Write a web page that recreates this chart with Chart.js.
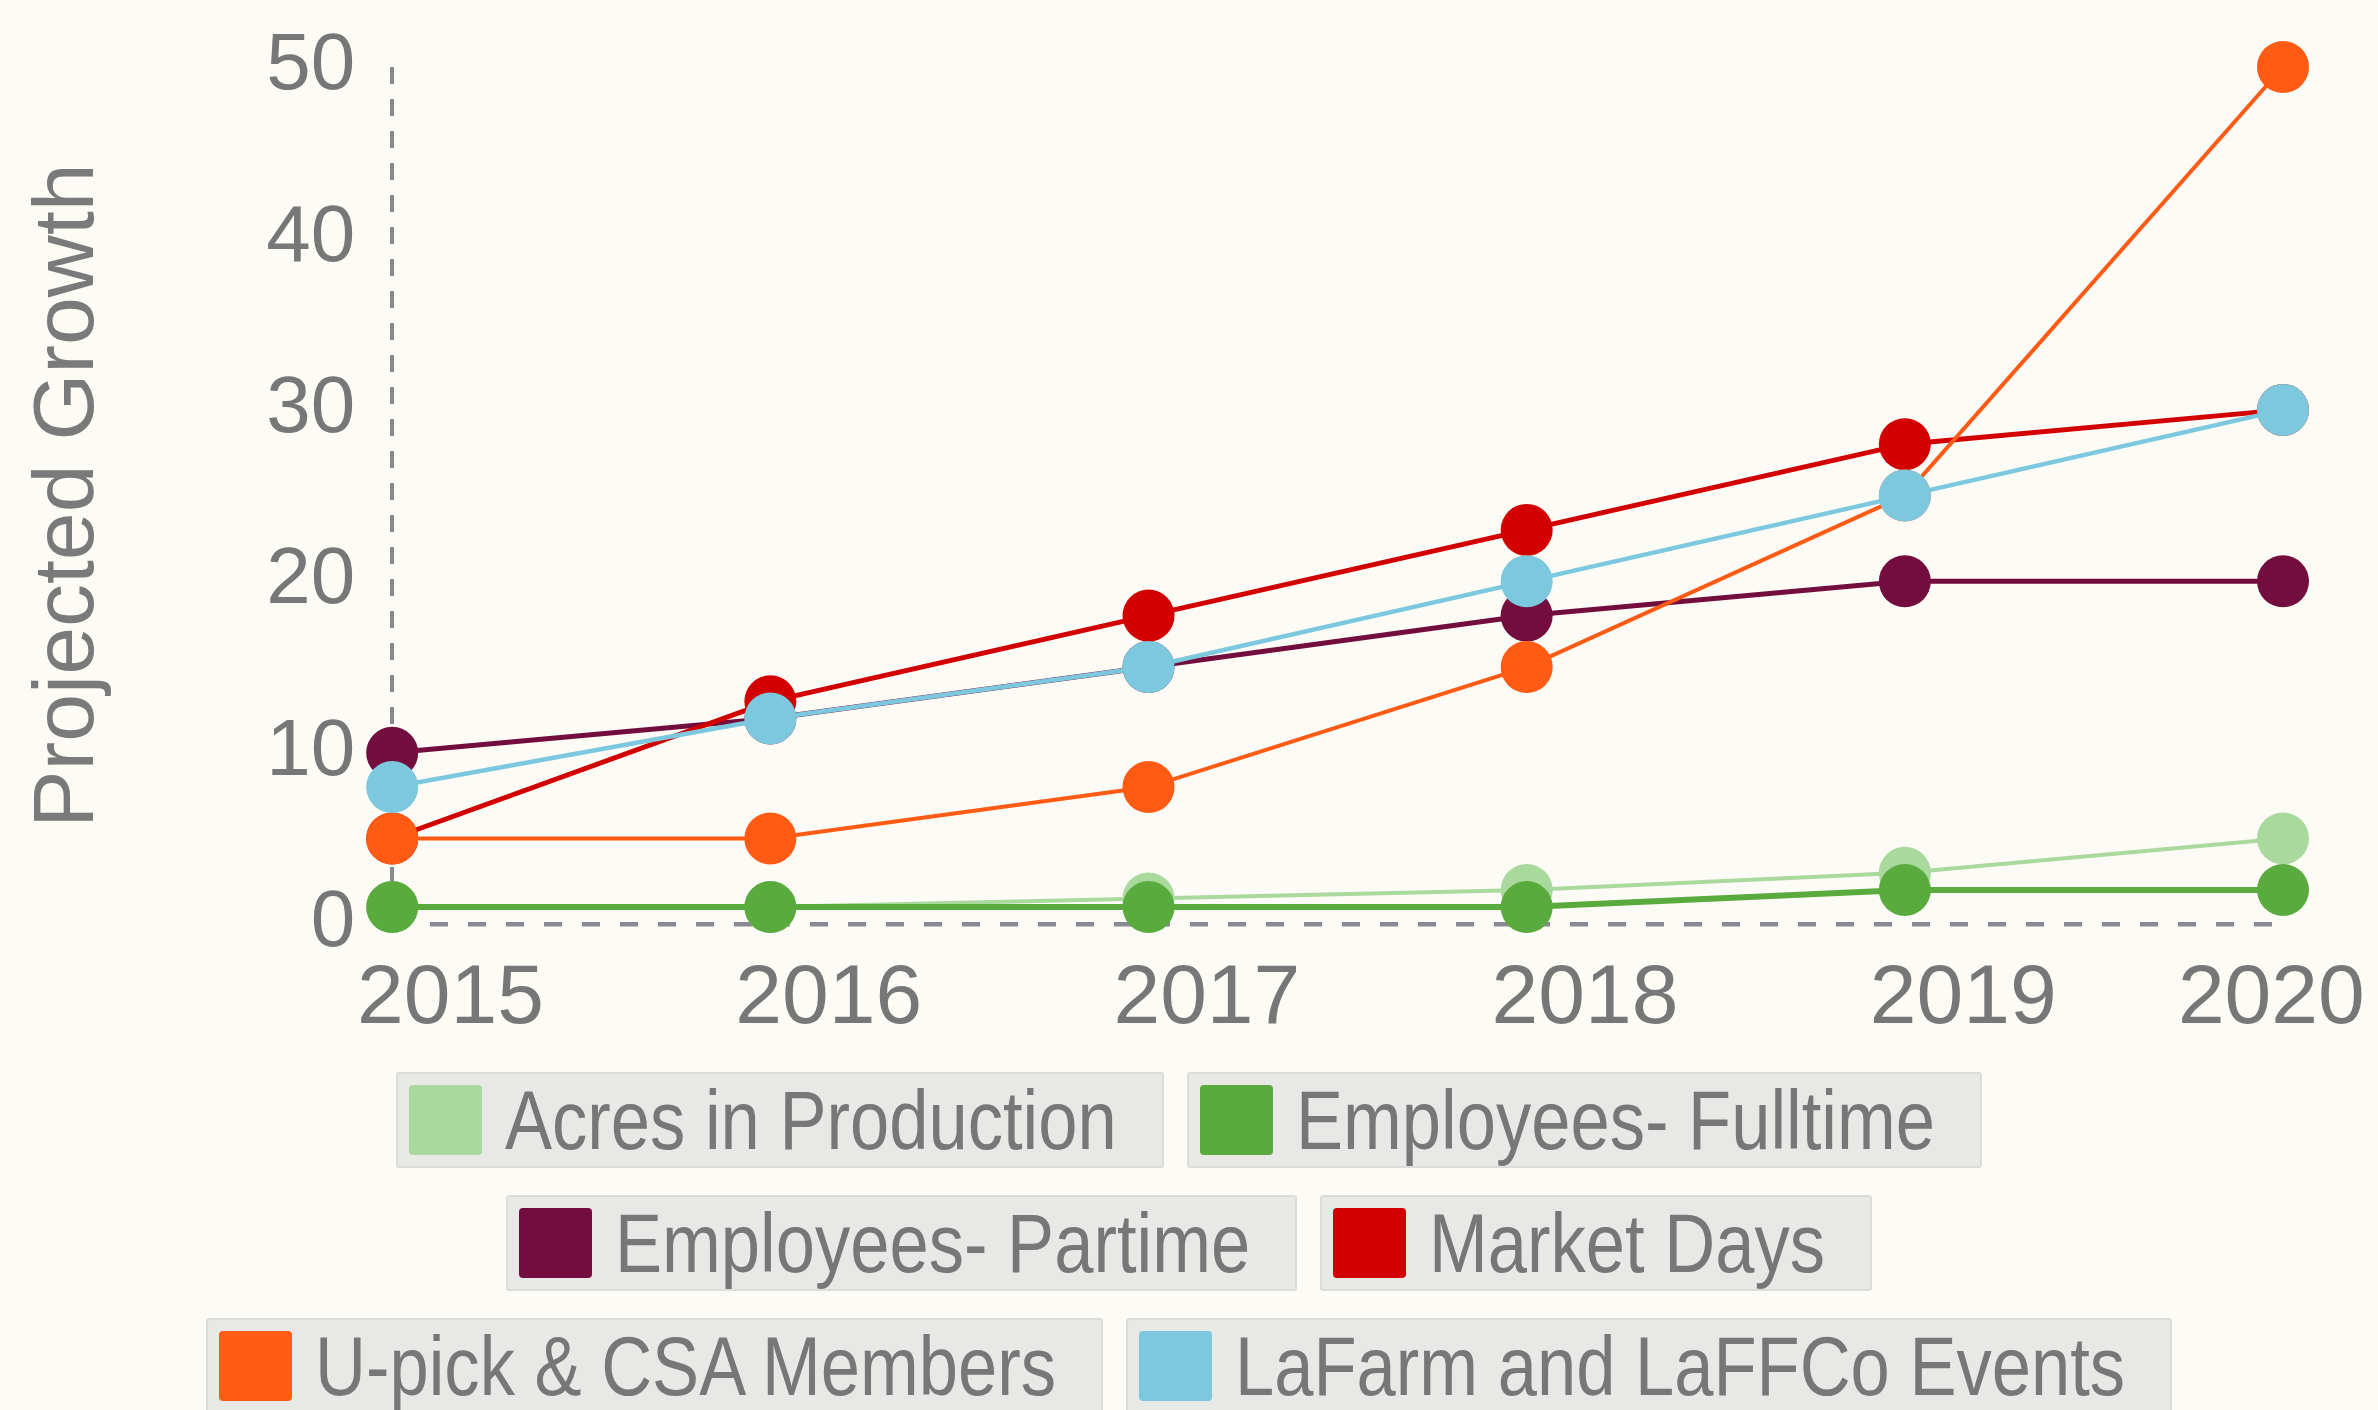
<!DOCTYPE html>
<html>
<head>
<meta charset="utf-8">
<script src="https://cdn.jsdelivr.net/npm/chart.js@4.4.1/dist/chart.umd.min.js"></script>
<style>
  html, body { margin: 0; padding: 0; }
  body {
    width: 2378px;
    height: 1410px;
    overflow: hidden;
    position: relative;
    background: #fdfbf6;
    font-family: "Liberation Sans", Arial, sans-serif;
  }
  #chartBox { position: absolute; left: 0; top: 0; width: 2378px; height: 1075px; }
  #legend {
    position: absolute; left: 0; top: 1072px; width: 2378px;
    display: flex; flex-direction: column; align-items: center; gap: 27px;
  }
  .legend-row { display: flex; gap: 23px; }
  .legend-item {
    display: flex; align-items: center;
    height: 92px; padding: 0 45px 0 11px;
    background: #e8e8e6; border: 2px solid #dcdcda; border-radius: 3px;
  }
  .legend-swatch { width: 73px; height: 70px; border-radius: 4px; margin-right: 23px; flex: none; }
  .legend-text {
    display: inline-block;
    font-size: 83px; line-height: 1; color: #777; white-space: nowrap;
    transform-origin: left center;
  }
</style>
</head>
<body>
<div id="chartBox"><canvas id="growthChart"></canvas></div>
<div id="legend"></div>

<script>
const years = ["2015", "2016", "2017", "2018", "2019", "2020"];

const acresInProduction = [1, 1, 1.5, 2, 3, 5];
const employeesFulltime = [1, 1, 1, 1, 2, 2];
const employeesPartime = [10, 12, 15, 18, 20, 20];
const marketDays = [5, 13, 18, 23, 28, 30];
const upickCsaMembers = [5, 5, 8, 15, 25, 50];
const farmEvents = [8, 12, 15, 20, 25, 30];

const yMin = 0;
const yMax = 50;
const yStep = 10;

function series(label, data, color, width) {
  return {
    label: label,
    data: data,
    borderColor: color,
    backgroundColor: color,
    pointBackgroundColor: color,
    borderWidth: width,
    pointRadius: 26,
    pointHoverRadius: 26,
    pointBorderWidth: 0,
    tension: 0,
    clip: false,
  };
}

const datasets = [
  series("Acres in Production", acresInProduction, "#a9d99c", 4),
  series("Employees- Fulltime", employeesFulltime, "#5aab3d", 6),
  series("Employees- Partime", employeesPartime, "#730d3e", 5),
  series("Market Days", marketDays, "#d20000", 5),
  series("U-pick & CSA Members", upickCsaMembers, "#ff5b14", 4),
  series("LaFarm and LaFFCo Events", farmEvents, "#7cc9df", 4.5),
];
// later series are painted over earlier ones, like in the original
datasets.forEach((ds, i) => { ds.order = datasets.length - i; });

// legend is plain html so it can sit two per row in grey boxes
const htmlLegend = {
  id: "htmlLegend",
  afterUpdate(chart) {
    const box = document.getElementById("legend");
    box.innerHTML = "";
    const items = chart.options.plugins.legend.labels
      .generateLabels(chart)
      .sort((a, b) => a.datasetIndex - b.datasetIndex);
    for (let i = 0; i < items.length; i += 2) {
      const row = document.createElement("div");
      row.className = "legend-row";
      box.appendChild(row);
      items.slice(i, i + 2).forEach((item) => {
        const el = document.createElement("div");
        el.className = "legend-item";
        const sw = document.createElement("span");
        sw.className = "legend-swatch";
        sw.style.background = item.fillStyle;
        const txt = document.createElement("span");
        txt.className = "legend-text";
        txt.textContent = item.text;
        el.appendChild(sw);
        el.appendChild(txt);
        row.appendChild(el);
        // the original uses a narrow face, squeeze the text to match
        const w = txt.offsetWidth;
        txt.style.transform = "scaleX(0.85)";
        txt.style.marginRight = -(w * 0.15) + "px";
      });
    }
  },
};

const grey = "#777777";
const dashGrey = "#8a8892";

new Chart(document.getElementById("growthChart"), {
  type: "line",
  data: { labels: years, datasets: datasets },
  options: {
    responsive: true,
    maintainAspectRatio: false,
    animation: false,
    events: [],
    layout: { padding: { top: 67, right: 95, bottom: 0, left: 0 } },
    plugins: {
      legend: { display: false },
      tooltip: { enabled: false },
    },
    scales: {
      x: {
        // only the first vertical grid line is shown: the dashed y axis
        grid: {
          drawTicks: false,
          lineWidth: 4,
          color: (ctx) => (ctx.index === 0 ? dashGrey : "rgba(0,0,0,0)"),
        },
        border: { display: false, dash: [17, 15] },
        ticks: {
          color: grey,
          font: { family: "Liberation Sans", size: 84 },
          padding: 25,
          maxRotation: 0,
          autoSkip: false,
          // the year labels sit a bit right of their point, the last one is pulled back in
          callback: function (value, index) {
            const text = this.getLabelForValue(value);
            return index < years.length - 1 ? "\u00a0\u00a0\u00a0\u00a0\u00a0" + text : text + "\u00a0";
          },
        },
        afterFit: (scale) => {
          scale.paddingRight = 0;
        },
      },
      y: {
        min: yMin,
        max: yMax,
        // only the zero line is shown: the dashed x axis
        grid: {
          drawTicks: false,
          lineWidth: 4.5,
          color: (ctx) => (ctx.tick && ctx.tick.value === 0 ? dashGrey : "rgba(0,0,0,0)"),
        },
        border: { display: false, dash: [18, 20] },
        ticks: {
          stepSize: yStep,
          color: grey,
          font: { family: "Liberation Sans", size: 80 },
          padding: 37,
        },
        title: {
          display: true,
          text: "Projected Growth",
          color: "#7a7a7a",
          font: { family: "Liberation Sans", size: 86 },
          padding: { top: 18, bottom: 108 },
        },
        afterFit: (scale) => {
          scale.paddingTop = 0;
          scale.paddingBottom = 0;
        },
      },
    },
  },
  plugins: [htmlLegend],
});
</script>
</body>
</html>
